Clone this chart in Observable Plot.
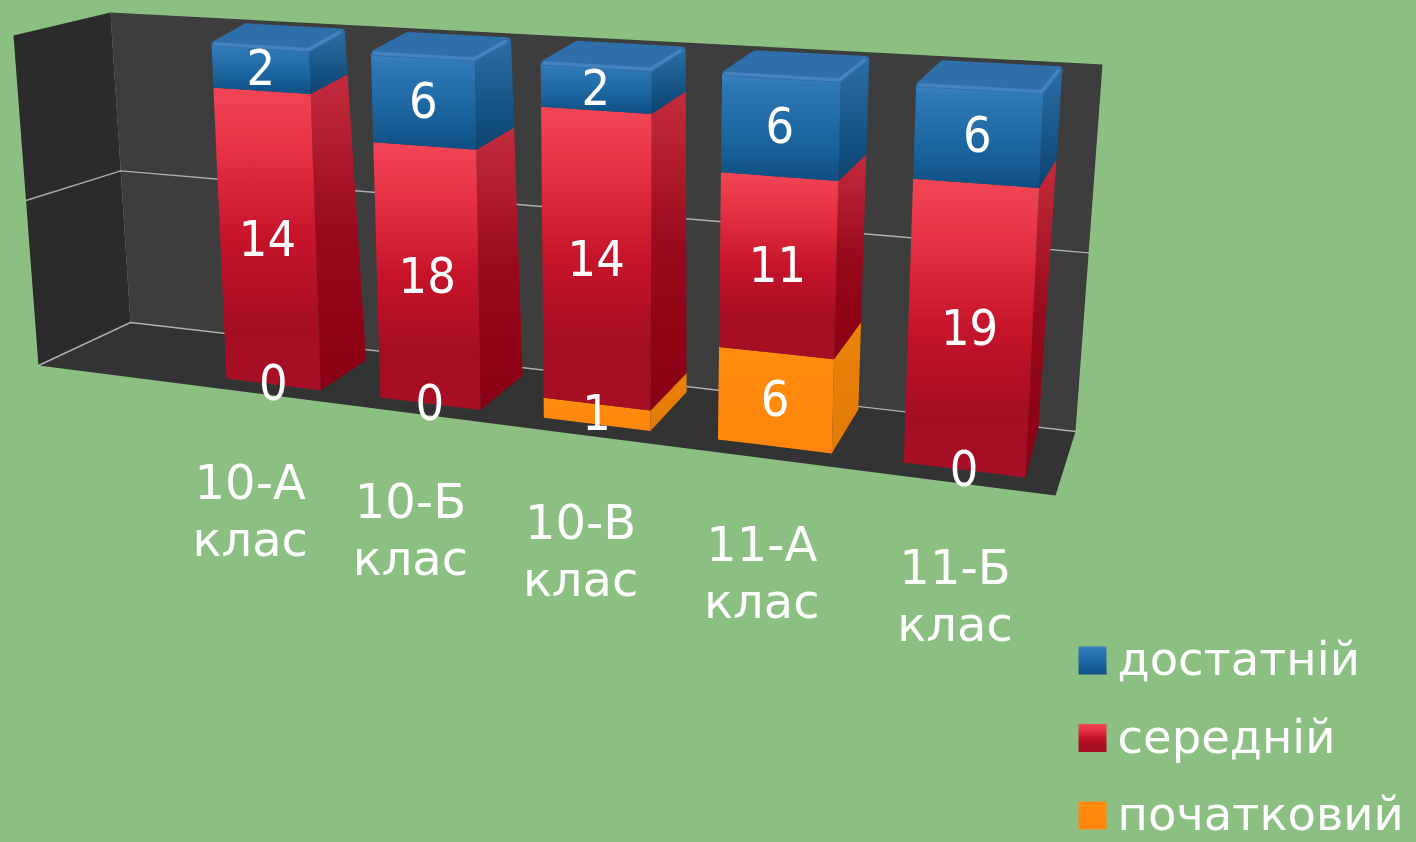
<!DOCTYPE html>
<html lang="uk">
<head>
<meta charset="utf-8">
<script src="https://cdn.jsdelivr.net/npm/d3@7"></script>
<script src="https://cdn.jsdelivr.net/npm/@observablehq/plot@0.6"></script>
<style>
html,body{margin:0;padding:0;background:#8cbf82;overflow:hidden}
svg{display:block;filter:blur(.6px)}
</style>
</head>
<body>
<div id="chart"></div>
<script>
// ---- values ----
const classes = ["10-А\nклас","10-Б\nклас","10-В\nклас","11-А\nклас","11-Б\nклас"];
const initial = [0,0,1,6,0];      // початковий
const average = [14,18,14,11,19]; // середній
const sufficient = [2,6,2,6,6];   // достатній
const seriesNames = ["початковий","середній","достатній"];
const legendNames = ["достатній","середній","початковий"];
const seriesValues = [initial,average,sufficient];
const seriesKeys = ["orange","red","blue"];

// ---- pseudo-3D view: unit cube -> page plane ----
function homography(q){ // q = [a0s1,a1s1,a0s0,a1s0] => (a,s)
  const [p00,p10,p01,p11]=[q[2],q[3],q[0],q[1]];
  const dx1=p10[0]-p11[0],dx2=p01[0]-p11[0],sx=p00[0]-p10[0]+p11[0]-p01[0];
  const dy1=p10[1]-p11[1],dy2=p01[1]-p11[1],sy=p00[1]-p10[1]+p11[1]-p01[1];
  const det=dx1*dy2-dx2*dy1;
  const g=(sx*dy2-dx2*sy)/det,h=(dx1*sy-sx*dy1)/det;
  const A=p10[0]-p00[0]+g*p10[0],B=p01[0]-p00[0]+h*p01[0],C=p00[0];
  const D=p10[1]-p00[1]+g*p10[1],E=p01[1]-p00[1]+h*p01[1],F=p00[1];
  return (a,s)=>{const w=g*a+h*s+1;return [(A*a+B*s+C)/w,(D*a+E*s+F)/w];};
}
const barFront=homography([[211,44],[1043,92],[226,378],[1025,477]]);
const barBack=homography([[245,25],[1062,68],[272,350],[1038,427]]);
const barWidth=0.62, span=classes.length-1+barWidth;
function P(u,s,d){
  const a=u/span;
  const f=barFront(a,s),b=barBack(a,s);
  return {x:f[0]+(b[0]-f[0])*d,y:f[1]+(b[1]-f[1])*d};
}
const wallBack=homography([[110,12],[1102,64],[130,322],[1075,431]]);
const lerp=(p,q,t)=>({x:p.x+(q.x-p.x)*t,y:p.y+(q.y-p.y)*t});
const pt=a=>({x:a[0],y:a[1]});
const wallFrontLeft=s=>lerp({x:38,y:365},{x:13,y:35},s);
const floorFrontRight={x:1055,y:495};

// ---- stacks, normalised to shares of each class ----
const stacks=classes.map((c,i)=>{
  const total=d3.sum(seriesValues,v=>v[i]);
  let acc=0;
  return seriesValues.map((v,k)=>{
    const y0=acc/total; acc+=v[i];
    return {i,k,key:seriesKeys[k],series:seriesNames[k],value:v[i],y0,y1:acc/total};
  });
});

// ---- marks ----
const marks=[];
const poly=(pts,fill,extra={})=>marks.push(Plot.line(pts,{x:"x",y:"y",fill,stroke:"none",curve:"linear-closed",...extra}));
const seg=(pts,stroke)=>marks.push(Plot.line(pts,{x:"x",y:"y",stroke,strokeWidth:1.4,strokeOpacity:.8}));

// walls and floor
poly([wallFrontLeft(0),wallFrontLeft(1),pt(wallBack(0,1)),pt(wallBack(0,0))],"#2b2b2b");
poly([pt(wallBack(0,0)),pt(wallBack(0,1)),pt(wallBack(1,1)),pt(wallBack(1,0))],"#3d3d3d");
poly([wallFrontLeft(0),pt(wallBack(0,0)),pt(wallBack(1,0)),floorFrontRight],"#333333");
// grid
[0,0.5].forEach(s=>{
  seg([wallFrontLeft(s),pt(wallBack(0,s))],"#c9c9c9");
  seg([pt(wallBack(0,s)),pt(wallBack(1,s))],"#c9c9c9");
});
// bars
stacks.forEach(stack=>{
  stack.forEach(r=>{
    if(r.value===0) return;
    const u0=r.i,u1=r.i+barWidth;
    poly([P(u1,r.y0,0),P(u1,r.y1,0),P(u1,r.y1,1),P(u1,r.y0,1)],`url(#side-${r.key})`);
    poly([P(u0,r.y0,0),P(u0,r.y1,0),P(u1,r.y1,0),P(u1,r.y0,0)],`url(#front-${r.key})`);
    if(r.y1===1){
      poly([P(u0+.012,1,.04),P(u0+.012,1,.96),P(u1-.012,1,.96),P(u1-.012,1,.04)],"#2f6fa9",{stroke:"#2f6fa9",strokeWidth:6,strokeLinejoin:"round"});
      marks.push(Plot.line([P(u0+.015,1,.03),P(u1-.012,1,.03),P(u1-.012,1,.9)],{x:"x",y:"y",stroke:"#4a8ccb",strokeWidth:3.5,strokeOpacity:.7,strokeLinejoin:"round",strokeLinecap:"round"}));
    }
  });
});
// value labels
const valueRows=stacks.flat().map(r=>{
  const p=P(r.i+barWidth/2,(r.y0+r.y1)/2,0);
  return {...p,text:String(r.value)};
});
const FONT_VALUE='"DejaVu Sans Condensed","DejaVu Sans",sans-serif';
const FONT='"DejaVu Sans",sans-serif';
marks.push(Plot.text(valueRows,{x:"x",y:"y",text:"text",fill:"white",fontSize:50,fontFamily:FONT_VALUE,textAnchor:"middle",lineAnchor:"middle"}));
// class labels
const classRows=classes.map((c,i)=>{
  const p=P(i+barWidth/2,0,0);
  return {x:p.x-23+i*3.5,y:p.y+124.5,text:c};
});
marks.push(Plot.text(classRows,{x:"x",y:"y",text:"text",fill:"white",fontSize:48,fontFamily:FONT,lineHeight:1.19,textAnchor:"middle",lineAnchor:"middle"}));
// legend
const legendRows=legendNames.map((n,i)=>({name:n,x:1092,tx:1117,y:660+i*77.5,key:["blue","red","orange"][i]}));
legendRows.forEach(r=>marks.push(Plot.dot([r],{x:"x",y:"y",symbol:"square",r:15.8,fill:`url(#front-${r.key})`,stroke:"none"})));
marks.push(Plot.text(legendRows,{x:"tx",y:"y",text:"name",fill:"white",fontSize:46.5,fontFamily:FONT,textAnchor:"start",lineAnchor:"middle"}));

const svg=Plot.plot({
  width:1416,height:842,margin:0,
  x:{domain:[0,1416],range:[0,1416],axis:null},
  y:{domain:[0,842],range:[0,842],axis:null},
  style:{background:"transparent"},
  marks
});
// gradients
const defs=d3.select(svg).insert("defs",":first-child");
const grads={
 "front-blue":[[0,"#3f83c2"],[.1,"#2f78b6"],[.6,"#1b659f"],[1,"#0e4f82"]],
 "side-blue":[[0,"#2a6ea6"],[1,"#0a4470"]],
 "front-red":[[0,"#f24656"],[.2,"#e63244"],[.5,"#c5142a"],[.8,"#a30d22"],[1,"#a80f24"]],
 "side-red":[[0,"#c42c3e"],[.5,"#98091b"],[1,"#8a0012"]],
 "front-orange":[[0,"#ff8c10"],[1,"#ff860a"]],
 "side-orange":[[0,"#ec8208"],[1,"#e07a05"]]
};
Object.entries(grads).forEach(([id,stops])=>{
  const g=defs.append("linearGradient").attr("id",id).attr("x1",0).attr("y1",0).attr("x2",0).attr("y2",1);
  stops.forEach(([o,c])=>g.append("stop").attr("offset",o).attr("stop-color",c));
});
document.getElementById("chart").append(svg);
</script>
</body>
</html>
